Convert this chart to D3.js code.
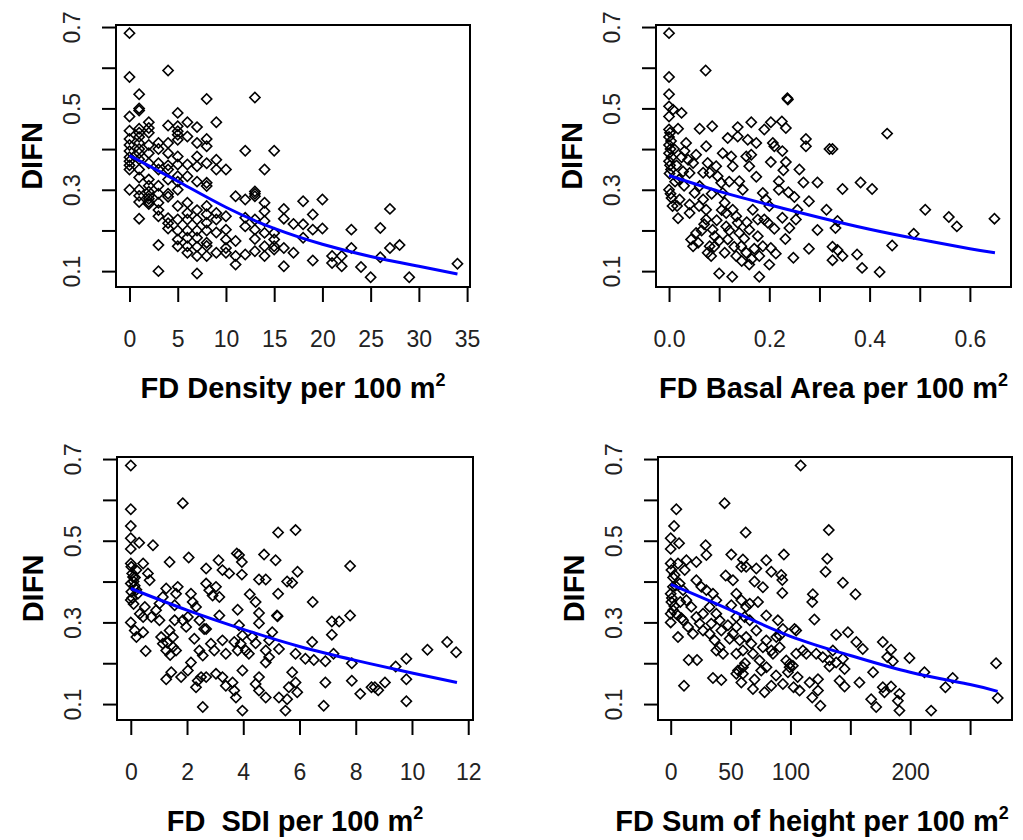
<!DOCTYPE html>
<html>
<head>
<meta charset="utf-8">
<script src="https://cdn.jsdelivr.net/npm/d3@7"></script>
<style>
  body { margin: 0; background: #fff; }
  svg { display: block; font-family: "Liberation Sans", Arial, sans-serif; }
</style>
</head>
<body>
<svg id="chart" width="1023" height="840"></svg>
<script>
// DIFN against four forest-structure measures, [x, DIFN]
const density = [
  [0,0.685],[0,0.577],[0,0.48],[0,0.445],[0,0.425],[0,0.41],[0,0.395],[0,0.38],[0,0.37],[0,0.36],[0,0.35],[0,0.30],
  [1,0.535],[1,0.50],[1,0.495],[1,0.45],[1,0.44],[1,0.43],[1,0.415],[1,0.40],[1,0.39],[1,0.375],[1,0.35],[1,0.33],[1,0.30],[1,0.285],[1,0.27],[1,0.229],
  [2,0.466],[2,0.452],[2,0.44],[2,0.41],[2,0.39],[2,0.365],[2,0.325],[2,0.31],[2,0.295],[2,0.285],[2,0.278],[2,0.27],[2,0.265],
  [3,0.415],[3,0.40],[3,0.365],[3,0.35],[3,0.31],[3,0.29],[3,0.268],[3,0.25],[3,0.235],[3,0.164],[3,0.10],
  [4,0.593],[4,0.458],[4,0.415],[4,0.39],[4,0.36],[4,0.35],[4,0.325],[4,0.29],[4,0.283],[4,0.23],[4,0.218],[4,0.205],
  [5,0.489],[5,0.456],[5,0.444],[5,0.435],[5,0.423],[5,0.382],[5,0.362],[5,0.333],[5,0.32],[5,0.30],[5,0.26],[5,0.227],[5,0.20],[5,0.178],[5,0.161],
  [6,0.466],[6,0.431],[6,0.362],[6,0.333],[6,0.268],[6,0.243],[6,0.227],[6,0.20],[6,0.182],[6,0.161],[6,0.145],
  [7,0.454],[7,0.415],[7,0.382],[7,0.358],[7,0.32],[7,0.25],[7,0.227],[7,0.20],[7,0.182],[7,0.16],[7,0.137],[7,0.094],
  [8,0.523],[8,0.425],[8,0.407],[8,0.365],[8,0.317],[8,0.309],[8,0.26],[8,0.24],[8,0.219],[8,0.20],[8,0.17],[8,0.162],[8,0.137],
  [9,0.466],[9,0.374],[9,0.35],[9,0.243],[9,0.227],[9,0.195],[9,0.145],
  [10,0.35],[10,0.235],[10,0.202],[10,0.178],[10,0.157],[10,0.145],
  [11,0.284],[11,0.174],[11,0.137],[11,0.116],
  [12,0.396],[12,0.276],[12,0.231],[12,0.21],[12,0.141],
  [13,0.527],[13,0.296],[13,0.29],[13,0.284],[13,0.227],[13,0.202],[13,0.179],[13,0.149],
  [14,0.35],[14,0.268],[14,0.247],[14,0.223],[14,0.194],[14,0.161],[14,0.137],
  [15,0.396],[15,0.194],[15,0.178],[15,0.161],[15,0.153],
  [16,0.253],[16,0.229],[16,0.157],[16,0.112],
  [17,0.216],[17,0.145],
  [18,0.272],[18,0.215],[18,0.182],
  [19,0.239],[19,0.202],[19,0.126],
  [20,0.276],[20,0.205],
  [21,0.137],[21,0.12],
  [22,0.137],[22,0.112],
  [23,0.202],[23,0.157],
  [24,0.11],[25,0.085],
  [26,0.206],[26,0.134],
  [27,0.253],[27,0.157],
  [28,0.164],[29,0.085],[34,0.118]
];
const basal = [
  [0,0.685],[0,0.577],[0.073,0.593],[0,0.535],[0,0.505],[0.008,0.497],[0.025,0.489],[0,0.48],
  [0.236,0.525],[0.237,0.522],[0.018,0.45],[0.061,0.45],[0.086,0.456],[0.137,0.454],[0.164,0.466],[0.19,0.448],
  [0.203,0.466],[0.225,0.468],[0.233,0.452],[0.435,0.438],[0.273,0.425],[0.273,0.407],[0.32,0.40],[0.326,0.40],
  [0.117,0.427],[0.137,0.431],[0.157,0.423],[0.174,0.415],[0.207,0.415],[0.21,0.407],[0.226,0.395],[0.074,0.407],
  [0.054,0.386],[0.038,0.374],[0.164,0.386],[0.203,0.368],[0.233,0.368],[0.26,0.35],[0.228,0.348],[0.174,0.332],
  [0.219,0.321],[0.268,0.318],[0.296,0.318],[0.346,0.302],[0.382,0.318],[0.405,0.302],[0.219,0.30],[0.238,0.294],
  [0.25,0.282],[0.279,0.272],[0.314,0.251],[0.511,0.251],[0.558,0.233],[0.574,0.21],[0.649,0.229],[0.488,0.192],
  [0.445,0.163],[0.375,0.141],[0.385,0.108],[0.42,0.098],[0.326,0.16],[0.336,0.152],[0.346,0.137],[0.326,0.127],
  [0.336,0.223],[0.332,0.206],[0.296,0.201],[0.279,0.155],[0.248,0.133],[0.232,0.179],[0.213,0.143],[0.203,0.157],
  [0.2,0.116],[0.18,0.137],[0.16,0.116],[0.18,0.086],[0.126,0.086],[0.1,0.094],[0.256,0.251],[0.253,0.227],
  [0.24,0.206],[0.226,0.231],[0.21,0.204],
  [0,0.448],[0.002,0.44],[0,0.43],[0.004,0.42],[0,0.41],[0.003,0.40],[0,0.39],[0.005,0.38],[0,0.37],[0.002,0.36],
  [0.004,0.35],[0.001,0.34],[0,0.30],[0.003,0.29],[0.005,0.28],[0.007,0.26],
  [0.018,0.23],[0.021,0.276],[0.016,0.26],[0.02,0.325],[0.028,0.345],[0.034,0.415],[0.031,0.395],[0.041,0.264],
  [0.041,0.243],[0.044,0.178],[0.048,0.161],[0.054,0.194],[0.058,0.17],[0.051,0.292],[0.061,0.309],[0.068,0.342],
  [0.068,0.276],[0.074,0.251],[0.074,0.227],[0.077,0.145],[0.084,0.137],[0.081,0.161],[0.087,0.202],[0.091,0.186],
  [0.094,0.358],[0.097,0.333],[0.104,0.317],[0.107,0.292],[0.111,0.268],[0.114,0.243],[0.114,0.21],[0.117,0.178],
  [0.111,0.145],[0.124,0.382],[0.127,0.358],[0.134,0.235],[0.137,0.219],[0.14,0.194],[0.127,0.251],[0.144,0.161],
  [0.134,0.137],[0.154,0.145],[0.147,0.30],[0.14,0.321],[0.16,0.358],[0.154,0.382],[0.167,0.251],[0.177,0.227],
  [0.16,0.202],[0.177,0.186],[0.187,0.161],[0.187,0.292],[0.193,0.276],[0.2,0.26],[0.19,0.227],[0.197,0.219],
  [0.12,0.32],[0.107,0.39],[0.041,0.341],[0.048,0.366],[0.077,0.366],[0.081,0.342],
  [0.09,0.16],[0.1,0.175],[0.12,0.2],[0.13,0.16],[0.15,0.18],[0.155,0.22],[0.095,0.225],[0.105,0.25],
  [0.065,0.2],[0.07,0.215],[0.165,0.13],[0.17,0.155],[0.145,0.125],[0.085,0.29],[0.06,0.26],[0.03,0.31],
  [0.012,0.32],[0.015,0.36],[0.025,0.38],[0.01,0.4]
];
const sdi = [
  [0,0.684],[0,0.577],[1.85,0.592],[0,0.536],[0,0.506],[0.3,0.495],[0,0.48],[0.79,0.489],[5.24,0.52],[5.86,0.526],
  [2.06,0.459],[1.38,0.448],[3.77,0.469],[3.85,0.465],[4.74,0.466],[5.15,0.452],[3.95,0.448],[3.12,0.452],[2.68,0.432],
  [3.26,0.428],[3.5,0.42],[3.95,0.417],[4.56,0.405],[4.8,0.405],[5.93,0.424],[5.56,0.40],[5.74,0.397],[7.8,0.438],
  [4.23,0.369],[4.44,0.35],[3.8,0.331],[4.56,0.323],[5.24,0.37],[5.2,0.317],[5.22,0.315],[6.47,0.35],[7.8,0.317],
  [7.15,0.302],[7.41,0.302],[7.15,0.27],[5.03,0.276],[4.56,0.298],[3.15,0.317],[6.45,0.252],[7.21,0.223],[5.86,0.223],
  [6.21,0.211],[6.51,0.208],[6.92,0.205],[4.80,0.202],[4.92,0.215],[5.27,0.235],[5.74,0.178],[5.86,0.153],[5.62,0.141],
  [5.92,0.129],[5.27,0.116],[5.56,0.112],[5.5,0.084],[4.8,0.116],[4.56,0.133],[4.44,0.149],[4.56,0.166],[3.97,0.084],
  [3.97,0.182],[3.62,0.153],[3.68,0.133],[3.74,0.116],[3.38,0.145],[3.26,0.166],[3.03,0.174],[2.56,0.093],[6.92,0.153],
  [6.86,0.096],[7.86,0.20],[7.86,0.157],[8.16,0.125],[8.56,0.141],[8.68,0.141],[8.8,0.134],[9.04,0.153],[9.42,0.192],
  [9.8,0.211],[9.8,0.161],[9.8,0.107],[10.55,0.233],[11.25,0.252],[11.57,0.227],[0.53,0.23],[1.26,0.161],[1.44,0.178],
  [1.79,0.166],[2.03,0.182],[2.14,0.202],[2.32,0.141],[2.38,0.157],[2.5,0.166],[2.68,0.166],[2.44,0.231],[2.56,0.219],
  [2.85,0.248],[2.97,0.231],[3.26,0.256],[3.38,0.223],[3.68,0.252],[3.8,0.231],[3.91,0.248],[4.09,0.231],[4.2,0.223],
  [3.85,0.293],[3.97,0.268],[4.32,0.264],[4.44,0.249],[4.8,0.231],[4.92,0.256],
  [0,0.444],[0.02,0.436],[0.2,0.428],[0.08,0.411],[0,0.395],[0.14,0.39],[0.02,0.375],[0,0.355],[0.2,0.38],[0,0.30],
  [0.14,0.28],[0.2,0.264],[0.44,0.276],[0.5,0.338],[0.44,0.444],[0.61,0.42],[0.67,0.403],[0.32,0.321],[0.44,0.313],
  [0.73,0.313],[0.9,0.33],[1.02,0.346],[1.02,0.305],[1.14,0.362],[1.26,0.383],[1.08,0.264],[1.14,0.248],[1.26,0.231],
  [1.38,0.28],[1.5,0.264],[1.56,0.305],[1.56,0.342],[1.61,0.37],[1.67,0.387],[1.85,0.305],[1.97,0.289],[2.03,0.313],
  [1.61,0.231],[2.14,0.37],[2.2,0.35],[2.32,0.338],[2.44,0.305],[2.61,0.284],[2.68,0.395],[2.79,0.379],[2.91,0.366],
  [3.03,0.387],[3.15,0.362],[2.26,0.26],[2.68,0.284],
  [0.05,0.42],[0.1,0.40],[0.15,0.41],[0.05,0.36],[0.1,0.345],[0.25,0.37],[1.3,0.25],[1.4,0.22],[1.5,0.24]
];
const sumHeight = [
  [108.5,0.684],[4.7,0.577],[45,0.592],[2.8,0.536],[62.6,0.52],[132,0.526],[0,0.506],[7,0.494],[0,0.48],[29.2,0.489],
  [29.8,0.465],[50.6,0.466],[94.5,0.466],[130.7,0.456],[60.3,0.454],[79.8,0.452],[21.4,0.448],[129.3,0.424],[84,0.424],
  [92.3,0.416],[93.2,0.404],[71.5,0.432],[63,0.436],[59,0.436],[45.9,0.415],[52,0.403],[70,0.40],[77,0.386],[93.2,0.372],
  [143.8,0.397],[154.3,0.369],[118.7,0.369],[118.2,0.35],[120,0.307],[72.9,0.35],[66,0.346],[63,0.338],[54.8,0.37],
  [59,0.354],[79.8,0.317],[89.5,0.305],[103.4,0.284],[104.8,0.28],[93.7,0.284],[91,0.268],[138.2,0.27],[148,0.276],
  [155,0.252],[160.4,0.235],[177.1,0.252],[184,0.233],[199.4,0.213],[180.8,0.215],[185.5,0.205],[211.9,0.178],
  [235.5,0.164],[229.4,0.141],[271.7,0.20],[273.1,0.115],[217.5,0.084],[191,0.084],[189.7,0.108],[191,0.125],
  [177.1,0.141],[178.5,0.129],[184,0.143],[167.4,0.112],[171.6,0.093],[169,0.178],[157.6,0.153],[145.2,0.143],
  [141,0.157],[145.2,0.186],[132.6,0.192],[138.2,0.202],[125,0.096],[123,0.133],[123,0.161],[118.2,0.116],[116,0.153],
  [107.6,0.133],[106,0.166],[102.6,0.141],[93.7,0.149],[99.3,0.198],[97.9,0.178],[84,0.145],[78.4,0.129],[68.7,0.137],
  [59,0.153],[54.8,0.174],[60.3,0.174],[35.3,0.164],[42.3,0.159],[11.1,0.145],[15,0.208],[22,0.208],[6.1,0.264],
  [0,0.444],[0.6,0.428],[3.3,0.416],[1.9,0.387],[0,0.37],[0.6,0.35],[0,0.321],[0,0.30],[6.1,0.444],[11.7,0.428],
  [13.1,0.452],[7.5,0.395],[10.3,0.379],[13.1,0.354],[10.3,0.305],[14.5,0.289],[18.6,0.272],[17.2,0.338],[21.4,0.313],
  [24.2,0.297],[21.4,0.403],[25.6,0.387],[29.8,0.379],[27,0.321],[32.5,0.338],[35.3,0.37],[27,0.28],[32.5,0.272],
  [36.7,0.256],[38.1,0.354],[40.9,0.305],[42.3,0.28],[38.1,0.231],[43.7,0.223],[40.9,0.239],[47.8,0.293],[49.2,0.26],
  [52,0.272],[54.8,0.289],[57.6,0.256],[60.3,0.231],[54.8,0.223],[56.2,0.182],[60.3,0.19],[63,0.264],[67.3,0.248],
  [68.7,0.223],[71.5,0.28],[74.2,0.207],[75.6,0.182],[77,0.239],[79.8,0.256],[84,0.231],[85.4,0.223],[88.2,0.264],
  [91,0.239],[96.5,0.207],[99.3,0.19],[102,0.194],[104.8,0.223],[110.4,0.231],[113.2,0.223],[121.5,0.223],[127,0.215],
  [132.6,0.207],[135.4,0.231],[143.8,0.211],[33.9,0.297],[38.1,0.321],[50.6,0.342],[54.8,0.313],[61.7,0.313],[66,0.305],
  [2,0.41],[4,0.39],[1,0.36],[3,0.34],[5,0.32],[2,0.33],[8,0.35],[9,0.31],[62,0.2],[70,0.16],[80,0.19],[88,0.17]
];

// fitted curves
const densityFit = [[0,0.384],[5,0.321],[10,0.257],[15,0.205],[20,0.166],[25,0.136],[30,0.112],[34,0.093]];
const basalFit = [[0,0.335],[0.1,0.296],[0.2,0.263],[0.3,0.232],[0.4,0.203],[0.5,0.178],[0.6,0.155],[0.65,0.145]];
const sdiFit = [[0,0.383],[2,0.330],[4,0.283],[6,0.241],[8,0.207],[10,0.176],[11.6,0.153]];
const sumHeightFit = [[0,0.393],[50,0.33],[100,0.266],[150,0.219],[200,0.178],[250,0.148],[273,0.131]];

// ticks
const yTicks = [0.1, 0.2, 0.3, 0.4, 0.5, 0.6, 0.7];
const yTickLabels = ["0.1", "", "0.3", "", "0.5", "", "0.7"];
const densityTicks = [0, 5, 10, 15, 20, 25, 30, 35];
const densityTickLabels = ["0", "5", "10", "15", "20", "25", "30", "35"];
const basalTicks = [0, 0.1, 0.2, 0.3, 0.4, 0.5, 0.6];
const basalTickLabels = ["0.0", "", "0.2", "", "0.4", "", "0.6"];
const sdiTicks = [0, 2, 4, 6, 8, 10, 12];
const sdiTickLabels = ["0", "2", "4", "6", "8", "10", "12"];
const sumHeightTicks = [0, 50, 100, 150, 200, 250];
const sumHeightTickLabels = ["0", "50", "100", "", "200", ""];

const svg = d3.select("#chart");

const panels = [
  { data: density, fit: densityFit, ticks: densityTicks, labels: densityTickLabels,
    title: "FD Density per 100 m", box: { left: 116, right: 470, top: 25, bottom: 287 }, xDomain: [-1.4, 35.3] },
  { data: basal, fit: basalFit, ticks: basalTicks, labels: basalTickLabels,
    title: "FD Basal Area per 100 m", box: { left: 656, right: 1011, top: 25, bottom: 287 }, xDomain: [-0.026, 0.682] },
  { data: sdi, fit: sdiFit, ticks: sdiTicks, labels: sdiTickLabels,
    title: "FD\u00a0 SDI per 100 m", box: { left: 117, right: 473, top: 457, bottom: 720 }, xDomain: [-0.49, 12.17] },
  { data: sumHeight, fit: sumHeightFit, ticks: sumHeightTicks, labels: sumHeightTickLabels,
    title: "FD Sum of height per 100 m", box: { left: 658, right: 1012, top: 457, bottom: 720 }, xDomain: [-10.6, 285], titleX: 812 }
];

function drawPanel(p) {
  const b = p.box;
  const x = d3.scaleLinear().domain(p.xDomain).range([b.left, b.right]);
  const y = d3.scaleLinear().domain([0.061, 0.705]).range([b.bottom, b.top]);
  const g = svg.append("g");

  // open diamonds
  g.append("g").selectAll("path")
    .data(p.data)
    .join("path")
    .attr("d", d3.symbol(d3.symbolSquare, 52))
    .attr("transform", d => `translate(${x(d[0])},${y(d[1])}) rotate(45)`)
    .attr("fill", "none")
    .attr("stroke", "#000")
    .attr("stroke-width", 1.6);

  // fitted line on top
  const line = d3.line().x(d => x(d[0])).y(d => y(d[1])).curve(d3.curveNatural);
  g.append("path")
    .datum(p.fit)
    .attr("d", line)
    .attr("fill", "none")
    .attr("stroke", "#0000ff")
    .attr("stroke-width", 3);

  g.append("rect")
    .attr("x", b.left).attr("y", b.top)
    .attr("width", b.right - b.left).attr("height", b.bottom - b.top)
    .attr("fill", "none").attr("stroke", "#000").attr("stroke-width", 2);

  // x axis
  const xa = g.append("g")
    .attr("transform", `translate(0,${b.bottom})`)
    .call(d3.axisBottom(x).tickValues(p.ticks).tickFormat((d, i) => p.labels[i]).tickSize(15).tickSizeOuter(0));
  xa.attr("font-family", null).attr("font-size", null);
  xa.select(".domain").remove();
  xa.selectAll(".tick line").attr("stroke", "#000").attr("stroke-width", 2);
  xa.selectAll(".tick text")
    .attr("y", 52).attr("dy", "0.36em")
    .attr("font-size", 23).attr("fill", "#222");

  // y axis
  const ya = g.append("g")
    .attr("transform", `translate(${b.left},0)`)
    .call(d3.axisLeft(y).tickValues(yTicks).tickFormat((d, i) => yTickLabels[i]).tickSize(14).tickSizeOuter(0));
  ya.attr("font-family", null).attr("font-size", null);
  ya.select(".domain").remove();
  ya.selectAll(".tick line").attr("stroke", "#000").attr("stroke-width", 2);
  ya.selectAll(".tick text")
    .attr("dy", null)
    .attr("x", 0).attr("y", -44)
    .attr("transform", "rotate(-90)")
    .attr("text-anchor", "middle")
    .attr("dominant-baseline", "central")
    .attr("font-size", 23).attr("fill", "#222");

  // axis titles
  const t = g.append("text")
    .attr("x", p.titleX || (b.left + b.right) / 2)
    .attr("y", b.bottom + 111)
    .attr("text-anchor", "middle")
    .attr("font-size", 29).attr("font-weight", "bold").attr("fill", "#000");
  t.append("tspan").text(p.title);
  t.append("tspan").attr("dy", -12).attr("font-size", 18).text("2");

  g.append("text")
    .attr("transform", `translate(${b.left - 84},${(b.top + b.bottom) / 2}) rotate(-90)`)
    .attr("text-anchor", "middle")
    .attr("dominant-baseline", "central")
    .attr("font-size", 29).attr("font-weight", "bold").attr("fill", "#000")
    .text("DIFN");
}

panels.forEach(drawPanel);
</script>
</body>
</html>
